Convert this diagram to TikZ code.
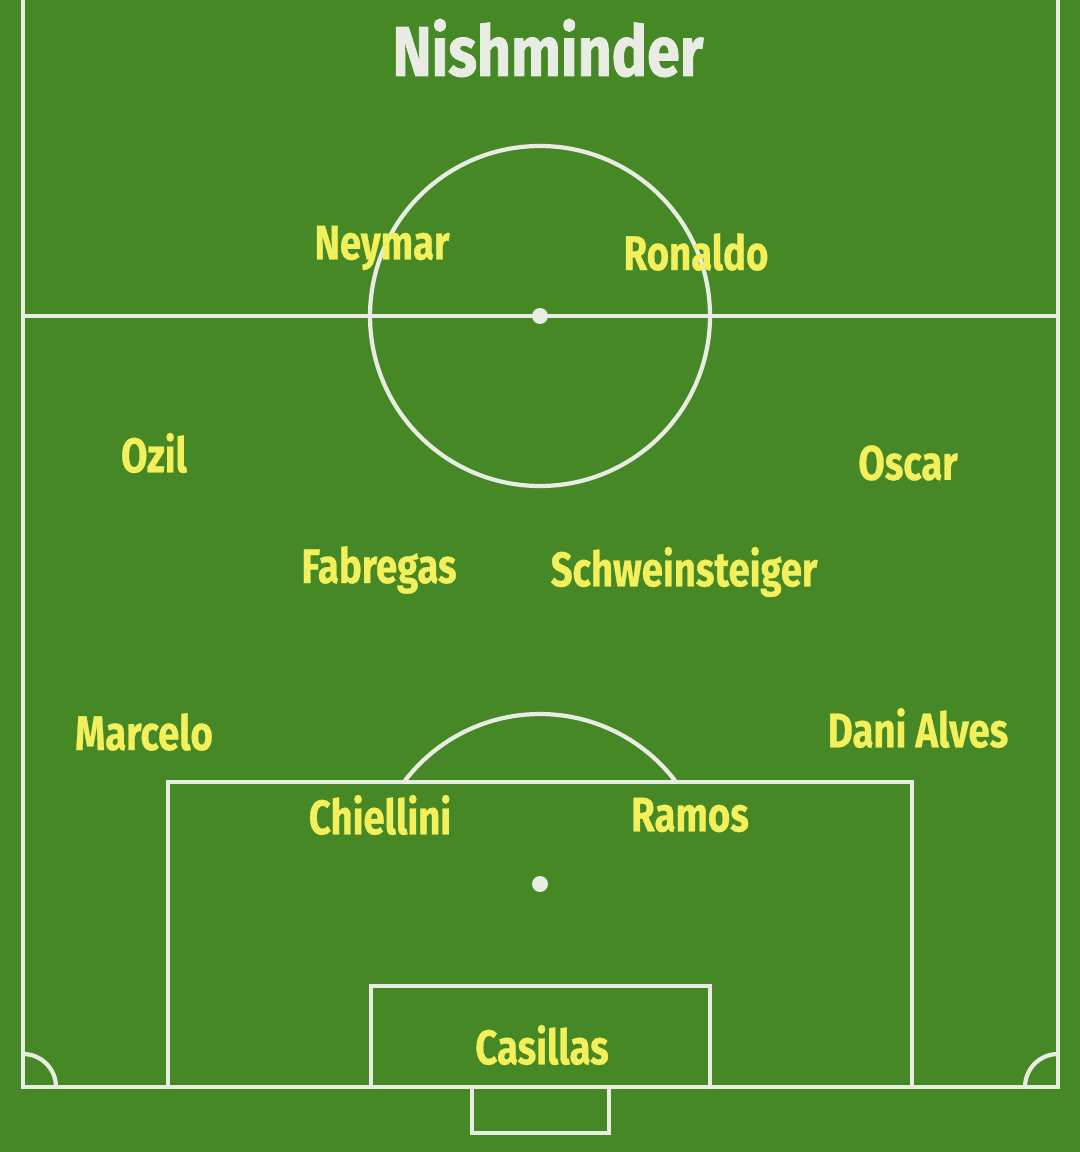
\documentclass[tikz,border=0pt]{standalone}
\usepackage{fontspec}
\setmainfont{Fira Sans}
\newfontfamily\namefont[FakeStretch=0.79, FakeBold=0.6]{Fira Sans Bold}
\newfontfamily\titlefont[FakeStretch=0.84, FakeBold=1.2]{Fira Sans Bold}
\usepackage{tikz}
\definecolor{grass}{RGB}{70,136,38}
\definecolor{chalk}{RGB}{232,236,226}
\definecolor{nameyellow}{RGB}{244,240,92}

\begin{document}
\begin{tikzpicture}[x=0.01cm, y=0.01cm,
    pitchline/.style={chalk, line width=1.2pt},
    player/.style={nameyellow, font=\namefont\fontsize{13.8}{15}\selectfont, inner sep=0pt},
    heading/.style={chalk, font=\titlefont\fontsize{20}{24}\selectfont, inner sep=0pt}]
  \useasboundingbox (0,0) rectangle (1080,-1152);
  \fill[grass] (0,0) rectangle (1080,-1152);

  % Touchlines, goal line and halfway line
  \draw[pitchline] (23,10) -- (23,-1087) -- (1058,-1087) -- (1058,10);
  \draw[pitchline] (23,-316) -- (1058,-316);

  % Centre circle and spot
  \draw[pitchline] (540,-316) circle[radius=170];
  \fill[chalk] (540,-316) circle[radius=8];

  % Penalty area, goal area and goal
  \draw[pitchline] (168,-1087) -- (168,-782) -- (912,-782) -- (912,-1087);
  \draw[pitchline] (371,-1087) -- (371,-986) -- (710,-986) -- (710,-1087);
  \draw[pitchline] (472,-1087) -- (472,-1133) -- (609,-1133) -- (609,-1087);
  \fill[chalk] (540,-884) circle[radius=8];
  \draw[pitchline] (676,-782) arc[start angle=36.87, end angle=143.13, radius=170];

  % Corner arcs
  \draw[pitchline] (23,-1054) arc[start angle=90, end angle=0, radius=33];
  \draw[pitchline] (1025,-1087) arc[start angle=180, end angle=90, radius=33];

  % Team name
  \node[heading] (title) at (548,-48) {Nishminder};

  % Forwards
  \node[player] (neymar) at (382,-248) {Neymar};
  \node[player] (ronaldo) at (696,-252) {Ronaldo};

  % Midfield
  \node[player] (ozil) at (154,-453) {Ozil};
  \node[player] (oscar) at (908,-463) {Oscar};
  \node[player] (fabregas) at (379,-570) {Fabregas};
  \node[player] (schweinsteiger) at (684,-572) {Schweinsteiger};

  % Defence and keeper
  \node[player] (marcelo) at (144,-732) {Marcelo};
  \node[player] (alves) at (918,-728) {Dani Alves};
  \node[player] (chiellini) at (380,-815) {Chiellini};
  \node[player] (ramos) at (690,-815) {Ramos};
  \node[player] (casillas) at (542,-1045) {Casillas};
\end{tikzpicture}
\end{document}
